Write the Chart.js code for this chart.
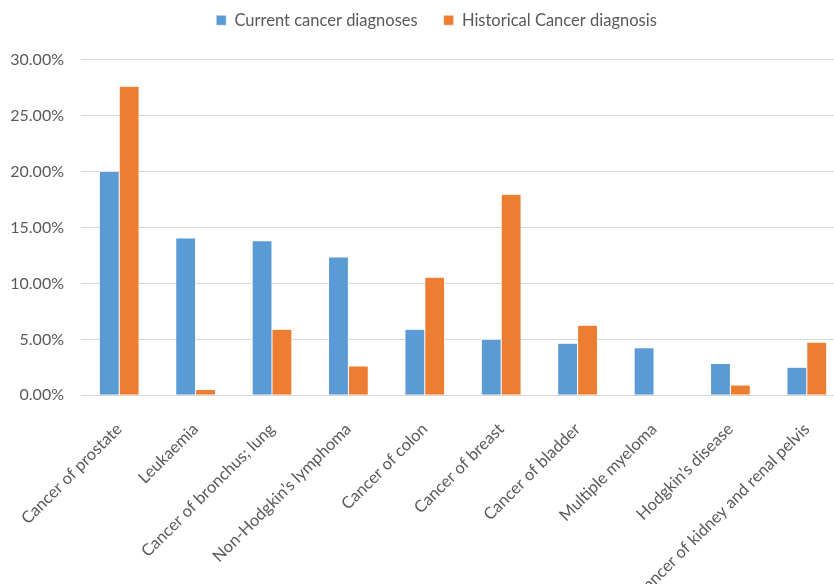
<!DOCTYPE html>
<html>
<head>
<meta charset="utf-8">
<script src="https://cdn.jsdelivr.net/npm/chart.js@4.4.1/dist/chart.umd.min.js"></script>
<style>
  html, body { margin: 0; padding: 0; background: #ffffff; overflow: hidden; }
  #wrap { width: 834px; height: 584px; overflow: hidden; position: relative; }
  canvas { position: absolute; left: 0; top: 0; }
</style>
</head>
<body>
<div id="wrap"><canvas id="chart" width="872" height="626"></canvas></div>
<script>
// Cancer types, ordered by share of current diagnoses
const categories = [
  "Cancer of prostate",
  "Leukaemia",
  "Cancer of bronchus; lung",
  "Non-Hodgkin\u2019s lymphoma",
  "Cancer of colon",
  "Cancer of breast",
  "Cancer of bladder",
  "Multiple myeloma",
  "Hodgkin\u2019s disease",
  "Cancer of kidney and renal pelvis"
];

// Share of diagnoses, in percent
const currentDiagnoses    = [20.0, 14.05, 13.8, 12.35, 5.9, 4.98, 4.66, 4.24, 2.84, 2.5];
const historicalDiagnoses = [27.6, 0.52, 5.9, 2.62, 10.55, 17.97, 6.25, 0, 0.92, 4.75];

const seriesNames = ["Current cancer diagnoses", "Historical Cancer diagnosis"];

// Value axis
const yMin = 0;
const yMax = 30;
const yStep = 5;

const FONT = "Lato, 'Open Sans', sans-serif";
const TEXT = "#595959";

// Space between the legend and the plot, and centre the legend over the plot
const legendPlacement = {
  id: "legendPlacement",
  beforeInit(chart) {
    const fit = chart.legend.fit;
    chart.legend.fit = function () {
      fit.call(this);
      this.height += 21;
    };
  },
  afterLayout(chart) {
    chart.legend.left += 9;
    chart.legend.right += 9;
  }
};

new Chart(document.getElementById("chart"), {
  type: "bar",
  data: {
    labels: categories,
    datasets: [
      {
        label: seriesNames[0],
        data: currentDiagnoses,
        backgroundColor: "#5B9BD5",
        borderColor: "#ffffff",
        borderWidth: 0.5
      },
      {
        label: seriesNames[1],
        data: historicalDiagnoses,
        backgroundColor: "#ED7D31",
        borderColor: "#ffffff",
        borderWidth: 0.5
      }
    ]
  },
  plugins: [legendPlacement],
  options: {
    responsive: false,
    animation: false,
    layout: { padding: { left: 10, right: 27, top: -14, bottom: 0 } },
    datasets: {
      bar: { categoryPercentage: 0.52, barPercentage: 1.0 }
    },
    plugins: {
      legend: {
        position: "top",
        labels: {
          font: { family: FONT, size: 16.5 },
          color: TEXT,
          boxWidth: 10,
          boxHeight: 10,
          padding: 26
        }
      },
      tooltip: { enabled: false }
    },
    scales: {
      x: {
        grid: { display: false, drawTicks: false },
        border: { display: true, color: "#D9D9D9", width: 1 },
        afterFit(scale) {
          scale.paddingLeft = 0;
          scale.paddingRight = 0;
        },
        ticks: {
          font: { family: FONT, size: 16.5 },
          color: TEXT,
          minRotation: 45,
          maxRotation: 45,
          autoSkip: false,
          padding: 24
        }
      },
      y: {
        min: yMin,
        max: yMax,
        grid: { color: "#D9D9D9", lineWidth: 1, drawTicks: false },
        border: { display: false },
        afterFit(scale) {
          scale.width = 71;
        },
        ticks: {
          stepSize: yStep,
          font: { family: FONT, size: 16 },
          color: TEXT,
          padding: 17,
          callback: v => v.toFixed(2) + "%"
        }
      }
    }
  }
});
</script>
</body>
</html>
